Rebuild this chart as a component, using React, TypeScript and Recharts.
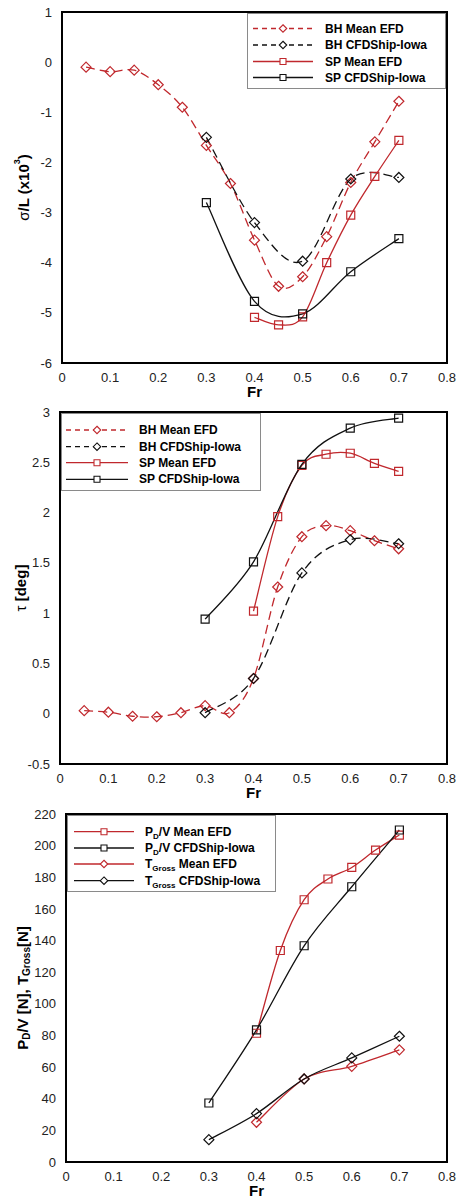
import React from 'react';
import { Legend, Line, LineChart, ReferenceArea, XAxis, YAxis } from 'recharts';

const RED = '#c0282d';
const BLACK = '#111';

// Froude numbers
const frBh = [0.05, 0.1, 0.15, 0.2, 0.25, 0.3, 0.35, 0.4, 0.45, 0.5, 0.55, 0.6, 0.65, 0.7];
const frCfd = [0.3, 0.4, 0.5, 0.6, 0.7];
const frSpEfd = [0.4, 0.45, 0.5, 0.55, 0.6, 0.65, 0.7];
const frThrust = [0.4, 0.5, 0.6, 0.7];
const frTicks = [0, 0.1, 0.2, 0.3, 0.4, 0.5, 0.6, 0.7, 0.8];

// sinkage sigma/L (x10^3)
const sigmaBhEfd = [-0.1, -0.19, -0.16, -0.45, -0.9, -1.66, -2.42, -3.55, -4.47, -4.28, -3.48, -2.4, -1.59, -0.78];
const sigmaBhCfd = [-1.5, -3.2, -3.97, -2.33, -2.3];
const sigmaSpEfd = [-5.09, -5.24, -5.08, -4.0, -3.05, -2.28, -1.56];
const sigmaSpCfd = [-2.8, -4.77, -5.02, -4.18, -3.52];
const sigmaTicks = [1, 0, -1, -2, -3, -4, -5, -6];

// trim tau [deg]
const tauBhEfd = [0.03, 0.015, -0.025, -0.03, 0.01, 0.08, 0.01, 0.35, 1.26, 1.76, 1.87, 1.82, 1.72, 1.64];
const tauBhCfd = [0.01, 0.35, 1.4, 1.73, 1.69];
const tauSpEfd = [1.02, 1.96, 2.47, 2.58, 2.59, 2.49, 2.41];
const tauSpCfd = [0.94, 1.51, 2.48, 2.84, 2.94];
const tauTicks = [-0.5, 0, 0.5, 1, 1.5, 2, 2.5, 3];

// power / thrust
const pdEfd = [81.4, 133.7, 165.8, 178.9, 186.2, 197.2, 206.7];
const pdCfd = [37.3, 83.5, 136.7, 174, 209.9];
const tGrossEfd = [25.1, 52.5, 60.5, 70.9];
const tGrossCfd = [14.1, 30.6, 52.5, 65.8, 79.5];
const forceTicks = [0, 20, 40, 60, 80, 100, 120, 140, 160, 180, 200, 220];

const zip = (xs: number[], ys: number[]) => xs.map((fr, i) => ({ fr, v: ys[i] }));

// Excel-style smoothed line (Catmull-Rom as cubic bezier)
const excelSmooth = (context: any) => {
  let pts: number[][] = [];
  return {
    areaStart() {},
    areaEnd() {},
    lineStart() { pts = []; },
    point(x: number, y: number) { pts.push([+x, +y]); },
    lineEnd() {
      if (!pts.length) return;
      context.moveTo(pts[0][0], pts[0][1]);
      for (let i = 0; i < pts.length - 1; i++) {
        const p0 = pts[i - 1] || pts[i];
        const p1 = pts[i];
        const p2 = pts[i + 1];
        const p3 = pts[i + 2] || p2;
        context.bezierCurveTo(
          p1[0] + (p2[0] - p0[0]) / 6, p1[1] + (p2[1] - p0[1]) / 6,
          p2[0] - (p3[0] - p1[0]) / 6, p2[1] - (p3[1] - p1[1]) / 6,
          p2[0], p2[1]
        );
      }
    },
  };
};

type Marker = 'diamond' | 'square';

const markerPath = (m: Marker, x: number, y: number, s = 1) =>
  m === 'diamond'
    ? `M${x},${y - 5 * s}L${x + 5 * s},${y}L${x},${y + 5 * s}L${x - 5 * s},${y}Z`
    : `M${x - 4 * s},${y - 4 * s}H${x + 4 * s}V${y + 4 * s}H${x - 4 * s}Z`;

const makeDot = (m: Marker, color: string) => (p: any) => (
  <path key={p.index} d={markerPath(m, p.cx, p.cy)} fill="none" stroke={color} strokeWidth={1.2} />
);

interface Series {
  name: React.ReactNode;
  data: { fr: number; v: number }[];
  color: string;
  dashed: boolean;
  marker: Marker;
}

const DASH = '9 5';

const tickStyle = { fill: '#222', fontSize: 13 };

function LegendBox({ series, width, height, rows, lineX, textX }: {
  series: Series[]; width: number; height: number; rows: number[]; lineX: [number, number]; textX: number;
}) {
  const mid = (lineX[0] + lineX[1]) / 2;
  return (
    <svg width={width} height={height} style={{ display: 'block' }}>
      <rect x={0.5} y={0.5} width={width - 1} height={height - 1} fill="#fff" stroke="#8a8a8a" />
      {series.map((s, i) => (
        <g key={i}>
          <line x1={lineX[0]} x2={lineX[1]} y1={rows[i]} y2={rows[i]} stroke={s.color} strokeWidth={1.3}
            strokeDasharray={s.dashed ? '5 4' : undefined} />
          <path d={markerPath(s.marker, mid, rows[i], 0.75)} fill="#fff" stroke={s.color} strokeWidth={1.1} />
          <text x={textX} y={rows[i]} dominantBaseline="central" fontSize={12} fontWeight="bold" fill="#000">{s.name}</text>
        </g>
      ))}
    </svg>
  );
}

function Panel({ top, height, left, marginTop, xAxisHeight, domain, ticks, series, yLabel, yLabelX, legend }: {
  top: number; height: number; left: number; marginTop: number; xAxisHeight: number;
  domain: [number, number]; ticks: number[]; series: Series[]; yLabel: React.ReactNode; yLabelX: number;
  legend: { left: number; top: number; width: number; height: number; rows: number[]; lineX: [number, number]; textX: number };
}) {
  return (
    <div style={{ position: 'absolute', top, left: 0 }}>
      <LineChart width={457} height={height} margin={{ top: marginTop, right: 10, bottom: 0, left: 0 }}>
        <XAxis type="number" dataKey="fr" domain={[0, 0.8]} ticks={frTicks} tickFormatter={(v) => String(v)}
          axisLine={false} tickLine={false} tickSize={0} tickMargin={10} tick={tickStyle} height={xAxisHeight}
          label={{
            content: (p: any) => (
              <text x={p.viewBox.x + p.viewBox.width / 2} y={p.viewBox.y + 34} textAnchor="middle"
                fontSize={15} fontWeight="bold" fill="#000">Fr</text>
            ),
          }} />
        <YAxis type="number" domain={domain} ticks={ticks} axisLine={false} tickLine={false} tickSize={0}
          tickMargin={10} tick={tickStyle} width={left} interval={0}
          label={{
            content: (p: any) => {
              const cy = p.viewBox.y + p.viewBox.height / 2;
              return (
                <text x={yLabelX} y={cy} transform={`rotate(-90 ${yLabelX} ${cy})`} textAnchor="middle"
                  dominantBaseline="central" fontSize={15} fontWeight="bold" fill="#000">{yLabel}</text>
              );
            },
          }} />
        <ReferenceArea x1={0} x2={0.8} y1={domain[0]} y2={domain[1]} fill="none" stroke="#000" strokeWidth={2}
          ifOverflow="visible" />
        {series.map((s, i) => (
          <Line key={i} data={s.data} dataKey="v" type={excelSmooth as any} stroke={s.color} strokeWidth={1.3}
            strokeDasharray={s.dashed ? DASH : undefined} dot={makeDot(s.marker, s.color)} activeDot={false}
            isAnimationActive={false} legendType="none" />
        ))}
        <Legend layout="horizontal" verticalAlign="middle" align="center"
          wrapperStyle={{ left: legend.left, top: legend.top, width: legend.width, height: legend.height }}
          content={() => (
            <LegendBox series={series} width={legend.width} height={legend.height} rows={legend.rows}
              lineX={legend.lineX} textX={legend.textX} />
          )} />
      </LineChart>
    </div>
  );
}

const sinkageSeries: Series[] = [
  { name: 'BH Mean EFD', data: zip(frBh, sigmaBhEfd), color: RED, dashed: true, marker: 'diamond' },
  { name: 'BH CFDShip-Iowa', data: zip(frCfd, sigmaBhCfd), color: BLACK, dashed: true, marker: 'diamond' },
  { name: 'SP Mean EFD', data: zip(frSpEfd, sigmaSpEfd), color: RED, dashed: false, marker: 'square' },
  { name: 'SP CFDShip-Iowa', data: zip(frCfd, sigmaSpCfd), color: BLACK, dashed: false, marker: 'square' },
];

const trimSeries: Series[] = [
  { name: 'BH Mean EFD', data: zip(frBh, tauBhEfd), color: RED, dashed: true, marker: 'diamond' },
  { name: 'BH CFDShip-Iowa', data: zip(frCfd, tauBhCfd), color: BLACK, dashed: true, marker: 'diamond' },
  { name: 'SP Mean EFD', data: zip(frSpEfd, tauSpEfd), color: RED, dashed: false, marker: 'square' },
  { name: 'SP CFDShip-Iowa', data: zip(frCfd, tauSpCfd), color: BLACK, dashed: false, marker: 'square' },
];

const sub = (s: string) => <tspan fontSize={8} dy={4}>{s}</tspan>;

const forceSeries: Series[] = [
  { name: <>P{sub('D')}<tspan dy={-4}>/V Mean EFD</tspan></>, data: zip(frSpEfd, pdEfd), color: RED, dashed: false, marker: 'square' },
  { name: <>P{sub('D')}<tspan dy={-4}>/V CFDShip-Iowa</tspan></>, data: zip(frCfd, pdCfd), color: BLACK, dashed: false, marker: 'square' },
  { name: <>T{sub('Gross')}<tspan dy={-4}> Mean EFD</tspan></>, data: zip(frThrust, tGrossEfd), color: RED, dashed: false, marker: 'diamond' },
  { name: <>T{sub('Gross')}<tspan dy={-4}> CFDShip-Iowa</tspan></>, data: zip(frCfd, tGrossCfd), color: BLACK, dashed: false, marker: 'diamond' },
];

export default function App() {
  return (
    <div style={{ position: 'absolute', top: 0, left: 0, width: 457, height: 1198, background: '#fff',
      fontFamily: '"Liberation Sans", Arial, sans-serif' }}>
      <Panel top={0} height={400} left={62} marginTop={12} xAxisHeight={37} domain={[-6, 1]} ticks={sigmaTicks}
        series={sinkageSeries} yLabelX={23}
        yLabel={<><tspan fontWeight="normal">σ</tspan>/L (x10<tspan fontSize={9} dy={-6}>3</tspan><tspan dy={6}>)</tspan></>}
        legend={{ left: 247, top: 13, width: 199, height: 76, rows: [15.5, 32, 48.5, 64.5], lineX: [6, 66], textX: 78 }} />
      <Panel top={400} height={400} left={60} marginTop={12} xAxisHeight={36} domain={[-0.5, 3]} ticks={tauTicks}
        series={trimSeries} yLabelX={20}
        yLabel={<><tspan fontWeight="normal">τ</tspan> [deg]</>}
        legend={{ left: 61, top: 13, width: 200, height: 78, rows: [17, 33.7, 49.7, 66.3], lineX: [5, 67], textX: 78 }} />
      <Panel top={800} height={398} left={66} marginTop={14} xAxisHeight={36} domain={[0, 220]} ticks={forceTicks}
        series={forceSeries} yLabelX={22}
        yLabel={<>P<tspan fontSize={10} dy={4}>D</tspan><tspan dy={-4}>/V [N], T</tspan><tspan fontSize={10} dy={4}>Gross</tspan><tspan dy={-4}>[N]</tspan></>}
        legend={{ left: 67, top: 15, width: 209, height: 77, rows: [16.7, 33, 49, 65.7], lineX: [7, 67], textX: 78 }} />
    </div>
  );
}
